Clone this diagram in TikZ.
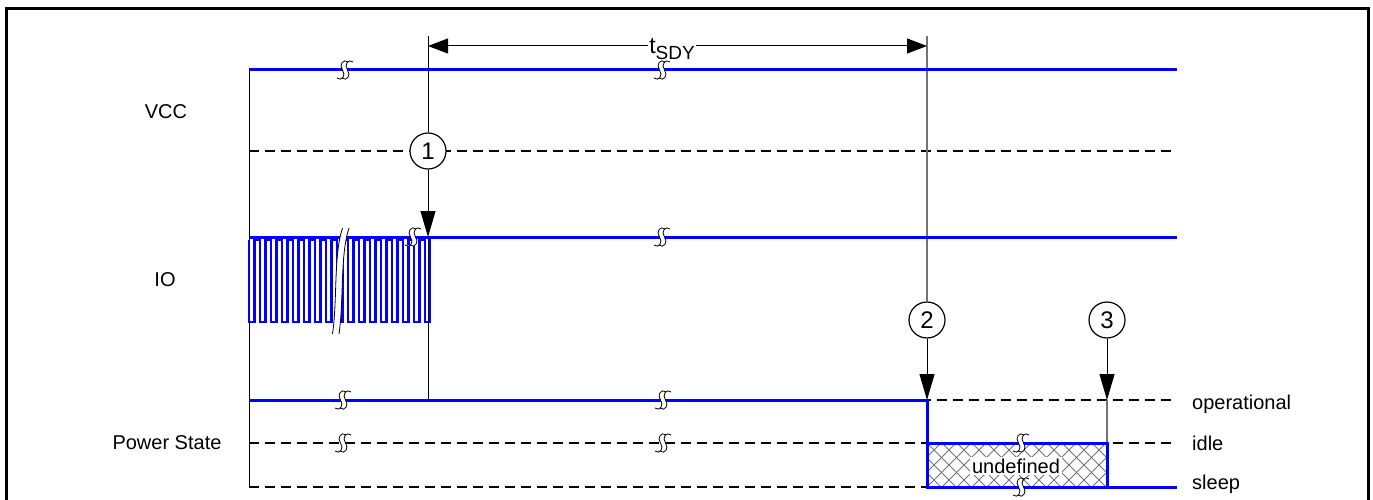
\documentclass[tikz,border=0pt]{standalone}
\usepackage{fontspec}
\setmainfont{Liberation Sans}
\usetikzlibrary{arrows.meta}
\begin{document}
\begin{tikzpicture}[x=1pt,y=-1pt,
  lbl/.style={font=\fontsize{20}{24}\selectfont, inner sep=0pt},
  sig/.style={blue, line width=3pt},
  dsh/.style={line width=1.8pt, dash pattern=on 10pt off 6pt},
  evt/.style={circle, draw, line width=1.2pt, fill=white, minimum size=36pt, inner sep=0pt, font=\fontsize{24}{28}\selectfont},
  arr/.style={-{Triangle[length=26pt,width=15pt]}, line width=1pt},
  dimarr/.style={{Triangle[length=20pt,width=15pt]}-{Triangle[length=20pt,width=15pt]}, line width=1pt},
  guide/.style={line width=1pt},
  gguide/.style={black!55, line width=1.5pt},
  hatchline/.style={black!55, line width=0.9pt},
  brk/.pic={
    \fill[white] (3,-8) .. controls (-1.5,-12) and (-6.5,-5) .. (-2.5,0) .. controls (1.5,5) and (-3.5,12) .. (-8,8) -- (-3,8) .. controls (1.5,12) and (6.5,5) .. (2.5,0) .. controls (-1.5,-5) and (3.5,-12) .. (8,-8) -- cycle;
    \draw[line width=0.8pt] (3,-8) .. controls (-1.5,-12) and (-6.5,-5) .. (-2.5,0) .. controls (1.5,5) and (-3.5,12) .. (-8,8);
    \draw[line width=0.8pt] (8,-8) .. controls (3.5,-12) and (-1.5,-5) .. (2.5,0) .. controls (6.5,5) and (1.5,12) .. (-3,8);
  }]
\useasboundingbox (0,0) rectangle (1373,500);
% frame
\coordinate (fa) at (6,512); \coordinate (fb) at (6,9);
\coordinate (fc) at (1368,9); \coordinate (fd) at (1368,512);
\draw[line width=3pt] (fa) -- (fb) -- (fc) -- (fd);

% labels
\node[lbl] (lvcc) at (166,112) {VCC};
\node[lbl] (lio) at (165,280) {IO};
\node[lbl] (lps) at (167,443) {Power State};
\node[lbl, anchor=west] (lop) at (1192,404) {operational};
\node[lbl, anchor=west] (lidle) at (1192,443) {idle};
\node[lbl, anchor=west] (lsleep) at (1192,484) {sleep};

% dashed reference lines
\coordinate (vd0) at (249,151); \coordinate (vd1) at (1177,151);
\coordinate (od0) at (249,400); \coordinate (od1) at (1177,400);
\coordinate (id0) at (249,443); \coordinate (id1) at (1177,443);
\coordinate (sd0) at (249,487); \coordinate (sd1) at (927,487);
\draw[dsh] (vd0) -- (vd1);
\draw[dsh] (od0) -- (od1);
\draw[dsh] (id0) -- (id1);
\draw[dsh] (sd0) -- (sd1);

% left vertical
\coordinate (L0) at (249,70); \coordinate (L1) at (249,487);
\draw[guide] (L0) -- (L1);

% hatch
\begin{scope}
  \clip (927,443) rectangle (1107,487);
  \foreach \k in {-60,-45,...,240} {
    \draw[hatchline] (927+\k,443) -- ++(44,44);
    \draw[hatchline] (927+\k,487) -- ++(44,-44);
  }
\end{scope}
\node[lbl, fill=white, inner sep=2pt] (undef) at (1016,466) {undefined};

% event lines
\node[evt] (c1) at (428,151) {1};
\node[evt] (c2) at (927,320) {2};
\node[evt] (c3) at (1107,320) {3};
\coordinate (t1) at (428,36); \coordinate (io1) at (428,237); \coordinate (p1) at (428,400);
\coordinate (t2) at (927,36); \coordinate (p2) at (927,400);
\coordinate (p3) at (1107,400); \coordinate (i3) at (1107,443);
\draw[guide] (t1) -- (c1);
\draw[guide] (io1) -- (p1);
\draw[gguide] (t2) -- (c2);
\draw[gguide] (p3) -- (i3);

% signals
\coordinate (v0) at (249,70); \coordinate (v1) at (1177,70);
\draw[sig] (v0) -- (v1);
\coordinate (o0) at (249,237); \coordinate (o1) at (1177,237);
\draw[sig] (o0) -- (o1);
\draw[blue, line width=2.2pt] (249,240)
  \foreach \i in {0,...,15} { -- ++(0,82) -- ++(5.5,0) -- ++(0,-82) -- ++(5.5,0) }
  -- ++(0,82) -- ++(5,0) -- ++(0,-85);
% IO break
\fill[white] (342.5,228) .. controls (333.5,255) and (337.5,300) .. (332.5,334) -- (339,334) .. controls (344,300) and (340,255) .. (349,228) -- cycle;
\draw[line width=0.8pt] (342.5,228) .. controls (333.5,255) and (337.5,300) .. (332.5,334);
\draw[line width=0.8pt] (349,228) .. controls (340,255) and (344,300) .. (339,334);

\coordinate (ps0) at (249,400); \coordinate (ps1) at (927,400);
\coordinate (ps2) at (927,487); \coordinate (ps3) at (1177,487);
\draw[sig] (ps0) -- (ps1) -- (ps2) -- (ps3);
\coordinate (ui0) at (927,443); \coordinate (ui1) at (1107,443); \coordinate (ui2) at (1107,487);
\draw[sig] (ui0) -- (ui1) -- (ui2);

% arrows
\draw[arr] (c1) -- (io1);
\draw[arr] (c2) -- (p2);
\draw[arr] (c3) -- (p3);
\coordinate (d1) at (428,46); \coordinate (d2) at (927,46);
\draw[dimarr] (d1) -- (d2);
\node[lbl, fill=white, inner sep=1pt] (tsdy) at (672,49) {\fontsize{23}{24}\selectfont t\raisebox{-6pt}{\fontsize{19}{19}\selectfont SDY}};

% break marks
\pic at (345,70) {brk};
\pic at (662,70) {brk};
\pic at (413,237) {brk};
\pic at (662,237) {brk};
\pic at (343,400) {brk};
\pic at (663,400) {brk};
\pic at (343,443) {brk};
\pic at (663,443) {brk};
\pic at (1021,443) {brk};
\pic at (1021,487) {brk};
\end{tikzpicture}
\end{document}
